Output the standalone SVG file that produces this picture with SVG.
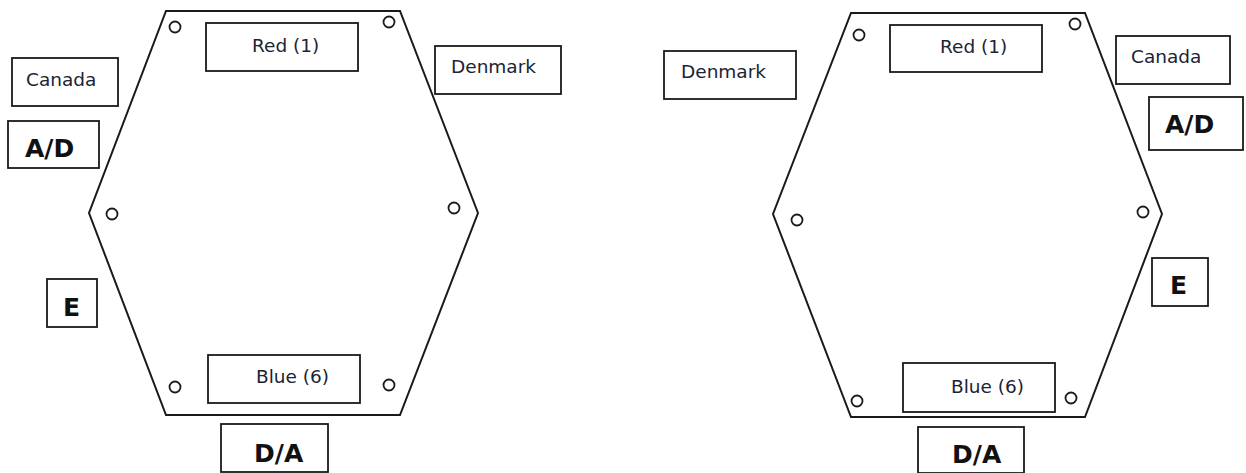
<svg xmlns="http://www.w3.org/2000/svg" width="1246" height="473" viewBox="0 0 1246 473">
  <style>
    .hex { fill: none; stroke: #1a1a1a; stroke-width: 2; stroke-linejoin: miter; }
    .hole { fill: #fff; stroke: #1a1a1a; stroke-width: 1.8; }
    .box { fill: #fff; stroke: #1a1a1a; stroke-width: 1.8; }
    .lbl { font-family: "DejaVu Sans", sans-serif; font-size: 18.5px; fill: #1c2333; }
    .big { font-family: "DejaVu Sans", sans-serif; font-weight: bold; font-size: 25px; fill: #111; }
  </style>
  <rect width="1246" height="473" fill="#fff"/>

  <!-- left plate -->
  <g id="plate-left">
    <polygon class="hex" points="166,11 400,11 478,213 400,415 166,415 89,213"/>
    <circle class="hole" cx="175" cy="27" r="5.5"/>
    <circle class="hole" cx="389" cy="22" r="5.5"/>
    <circle class="hole" cx="454" cy="208" r="5.5"/>
    <circle class="hole" cx="112" cy="214" r="5.5"/>
    <circle class="hole" cx="175" cy="387" r="5.5"/>
    <circle class="hole" cx="389" cy="385" r="5.5"/>
  </g>
  <g id="l-red"><rect class="box" x="206" y="23" width="152" height="48"/><text class="lbl" x="252" y="52">Red (1)</text></g>
  <g id="l-canada"><rect class="box" x="12" y="58" width="106" height="48"/><text class="lbl" x="26" y="86">Canada</text></g>
  <g id="l-ad"><rect class="box" x="8" y="121" width="91" height="47"/><text class="big" x="25" y="157">A/D</text></g>
  <g id="l-denmark"><rect class="box" x="435" y="46" width="126" height="48"/><text class="lbl" x="451" y="73">Denmark</text></g>
  <g id="l-e"><rect class="box" x="47" y="279" width="50" height="48"/><text class="big" x="63" y="316">E</text></g>
  <g id="l-blue"><rect class="box" x="208" y="355" width="152" height="48"/><text class="lbl" x="256" y="383">Blue (6)</text></g>
  <g id="l-da"><rect class="box" x="221" y="424" width="107" height="48"/><text class="big" x="254" y="462">D/A</text></g>

  <!-- right plate -->
  <g id="plate-right">
    <polygon class="hex" points="851,13 1085,13 1162,214 1085,417 851,417 773,214"/>
    <circle class="hole" cx="859" cy="35" r="5.5"/>
    <circle class="hole" cx="1075" cy="24" r="5.5"/>
    <circle class="hole" cx="1143" cy="212" r="5.5"/>
    <circle class="hole" cx="797" cy="220" r="5.5"/>
    <circle class="hole" cx="857" cy="401" r="5.5"/>
    <circle class="hole" cx="1071" cy="398" r="5.5"/>
  </g>
  <g id="r-denmark"><rect class="box" x="664" y="51" width="132" height="48"/><text class="lbl" x="681" y="78">Denmark</text></g>
  <g id="r-red"><rect class="box" x="890" y="25" width="152" height="47"/><text class="lbl" x="940" y="53">Red (1)</text></g>
  <g id="r-canada"><rect class="box" x="1116" y="36" width="114" height="48"/><text class="lbl" x="1131" y="63">Canada</text></g>
  <g id="r-ad"><rect class="box" x="1149" y="97" width="94" height="53"/><text class="big" x="1165" y="133">A/D</text></g>
  <g id="r-e"><rect class="box" x="1152" y="258" width="56" height="48"/><text class="big" x="1170" y="294">E</text></g>
  <g id="r-blue"><rect class="box" x="903" y="363" width="152" height="49"/><text class="lbl" x="951" y="393">Blue (6)</text></g>
  <g id="r-da"><rect class="box" x="918" y="427" width="106" height="46"/><text class="big" x="952" y="463">D/A</text></g>

  <g id="connectors"></g>
</svg>
